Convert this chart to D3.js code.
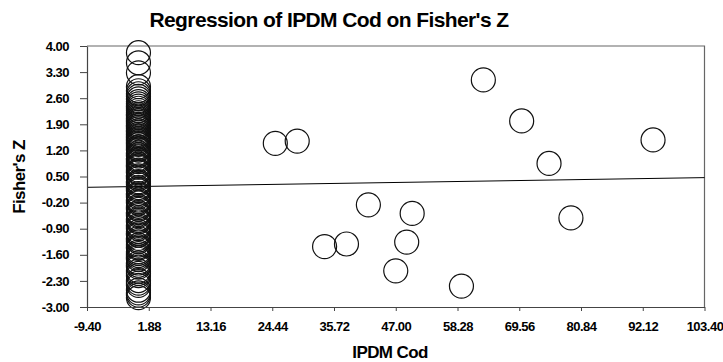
<!DOCTYPE html>
<html>
<head>
<meta charset="utf-8">
<script src="https://cdn.jsdelivr.net/npm/d3@7"></script>
<style>
  body { margin: 0; background: #fff; }
  svg text { font-family: "Liberation Sans", Arial, sans-serif; font-weight: bold; fill: #000; }
</style>
</head>
<body>
<figure id="chart" style="margin:0"></figure>
<script>
// tick labels as printed on the chart
const xTicks = [-9.40, 1.88, 13.16, 24.44, 35.72, 47.00, 58.28, 69.56, 80.84, 92.12, 103.40];
const yTicks = [4.00, 3.30, 2.60, 1.90, 1.20, 0.50, -0.20, -0.90, -1.60, -2.30, -3.00];

// studies with IPDM Cod = 0 (dense column)
const colY = [3.82, 3.55, 3.28, 2.91, 2.80, 2.72, 2.65, 2.58, 2.51, 2.45, 2.39, 2.33, 2.27,
  2.21, 2.16, 2.12, 2.07, 2.03, 1.99, 1.95, 1.90, 1.86, 1.82, 1.78, 1.73, 1.69, 1.64, 1.60,
  1.56, 1.52, 1.48, 1.44, 1.40, 1.36, 1.29, 1.25, 1.21, 1.13, 1.09, 1.05,
  0.98, 0.94, 0.90, 0.83, 0.79, 0.75, 0.67, 0.63, 0.60, 0.52, 0.48, 0.44,
  0.36, 0.32, 0.28, 0.20, 0.16, 0.12, 0.04, 0.00, -0.05, -0.13,
  -0.17, -0.21, -0.30, -0.34, -0.38, -0.47, -0.51, -0.55, -0.64, -0.68,
  -0.72, -0.81, -0.86, -0.90, -0.98, -1.03, -1.07, -1.16, -1.21, -1.25,
  -1.34, -1.39, -1.43, -1.52, -1.57, -1.62, -1.67, -1.72, -1.82, -1.88,
  -1.93, -2.04, -2.10, -2.16, -2.29, -2.36, -2.42, -2.55, -2.62, -2.68,
  -2.75];

// remaining studies
const ptX = [25, 29, 42, 50, 34, 38, 49, 47, 63, 70, 75, 94, 79, 59];
const ptY = [1.39, 1.45, -0.26, -0.49, -1.38, -1.31, -1.26, -2.03, 3.09, 1.99, 0.85, 1.48, -0.61, -2.44];

// fitted regression line (value at both ends of the x range)
const fitX = [-9.40, 103.40];
const fitY = [0.21, 0.47];

const W = 723, H = 362;
const margin = { top: 46, right: 19, bottom: 55, left: 87 };

const points = colY.map(y => ({ x: 0, y: y }))
  .concat(ptX.map((x, i) => ({ x: x, y: ptY[i] })));

const svg = d3.select("figure#chart")
  .append("svg")
  .attr("width", W)
  .attr("height", H);

const x = d3.scaleLinear()
  .domain([xTicks[0], xTicks[xTicks.length - 1]])
  .range([margin.left, W - margin.right + 0.5]);

const y = d3.scaleLinear()
  .domain([yTicks[yTicks.length - 1], yTicks[0]])
  .range([H - margin.bottom, margin.top]);

// frame (top & right)
svg.append("path")
  .attr("d", `M${x.range()[0]},${y(4)}H${x.range()[1]}V${y(-3)}`)
  .attr("fill", "none")
  .attr("stroke", "#666")
  .attr("stroke-width", 1.2);

// regression line
svg.append("line")
  .attr("x1", x(fitX[0])).attr("y1", y(fitY[0]))
  .attr("x2", x(fitX[1])).attr("y2", y(fitY[1]))
  .attr("stroke", "#000")
  .attr("stroke-width", 1);

// circles
svg.append("g").selectAll("circle")
  .data(points)
  .enter()
  .append("circle")
  .attr("cx", d => x(d.x))
  .attr("cy", d => y(d.y))
  .attr("r", 12)
  .attr("fill", "none")
  .attr("stroke", "#111")
  .attr("stroke-width", 1.2);

// axes
const fmt = d => d.toFixed(2);
const xAxis = svg.append("g")
  .attr("transform", `translate(0,${y(-3)})`)
  .call(d3.axisBottom(x).tickValues(xTicks).tickFormat(fmt).tickSize(4).tickSizeOuter(0).tickPadding(11));

const yAxis = svg.append("g")
  .attr("transform", `translate(${x(xTicks[0])},0)`)
  .call(d3.axisLeft(y).tickValues(yTicks).tickFormat(fmt).tickSize(7).tickSizeOuter(0).tickPadding(11));

[xAxis, yAxis].forEach(a => {
  a.selectAll(".domain").attr("stroke", "#444").attr("stroke-width", 1.2);
  a.selectAll(".tick line").attr("stroke", "#444");
  a.selectAll(".tick text")
    .style("font-size", "13px")
    .style("letter-spacing", "-0.5px")
    .attr("font-family", null);
});

// titles
svg.append("text")
  .attr("x", 329).attr("y", 27)
  .style("text-anchor", "middle")
  .style("font-size", "21px")
  .style("letter-spacing", "-0.6px")
  .text("Regression of IPDM Cod on Fisher's Z");

svg.append("text")
  .attr("x", 390).attr("y", 358)
  .style("text-anchor", "middle")
  .style("font-size", "17px")
  .style("letter-spacing", "-0.6px")
  .text("IPDM Cod");

svg.append("text")
  .attr("transform", "translate(25,177) rotate(-90)")
  .style("text-anchor", "middle")
  .style("font-size", "17px")
  .style("letter-spacing", "-0.6px")
  .text("Fisher's Z");
</script>
</body>
</html>
